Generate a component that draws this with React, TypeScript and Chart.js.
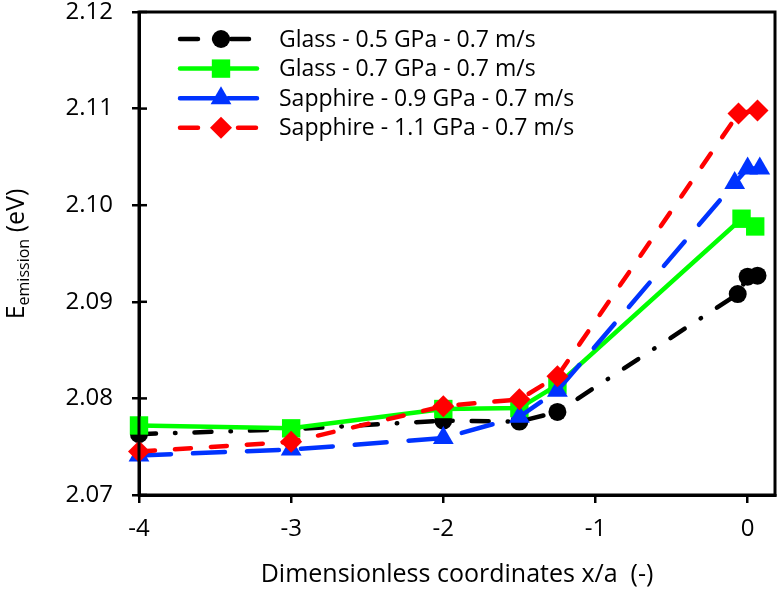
import React, { useEffect, useRef } from 'react';
import { Chart, registerables } from 'chart.js';
import { drawPoint } from 'chart.js/helpers';

Chart.register(...registerables);

// ---- data ----
const seriesLabels = [
  'Glass - 0.5 GPa - 0.7 m/s',
  'Glass - 0.7 GPa - 0.7 m/s',
  'Sapphire - 0.9 GPa - 0.7 m/s',
  'Sapphire - 1.1 GPa - 0.7 m/s',
];
const xGlass05 = [-4, -3, -2, -1.5, -1.25, -0.065, 0, 0.065];
const yGlass05 = [2.0763, 2.0768, 2.0777, 2.0776, 2.0786, 2.0908, 2.0926, 2.0927];
const xGlass07 = [-4, -3, -2, -1.5, -1.25, -0.04, 0.05];
const yGlass07 = [2.0772, 2.0769, 2.0789, 2.079, 2.0814, 2.0986, 2.0978];
const xSapph09 = [-4, -3, -2, -1.5, -1.25, -0.085, 0, 0.08];
const ySapph09 = [2.0741, 2.0747, 2.0759, 2.0781, 2.0808, 2.1023, 2.1038, 2.1038];
const xSapph11 = [-4, -3, -2, -1.5, -1.25, -0.06, 0.065];
const ySapph11 = [2.0745, 2.0755, 2.0792, 2.0799, 2.0823, 2.1095, 2.1098];

const xTicks = [-4, -3, -2, -1, 0];
const yTicks = [2.07, 2.08, 2.09, 2.1, 2.11, 2.12];

const FONT = '"Open Sans", "Noto Sans", sans-serif';

const toPts = (xs: number[], ys: number[]) => xs.map((x, i) => ({ x, y: ys[i] }));

const legendDashes: number[][] = [[18, 16, 1, 16], [], [36, 12], [18, 40]];

const framePlugin = {
  id: 'frameAndExtras',
  afterDraw(chart: any) {
    const { ctx, chartArea: a, scales } = chart;
    ctx.save();
    // frame
    ctx.strokeStyle = '#000';
    ctx.lineWidth = 3;
    ctx.setLineDash([]);
    ctx.strokeRect(a.left, a.top, a.right - a.left, a.bottom - a.top);
    // inner y ticks
    ctx.lineWidth = 2.5;
    yTicks.forEach((v) => {
      const py = scales.y.getPixelForValue(v);
      ctx.beginPath();
      ctx.moveTo(a.left, py);
      ctx.lineTo(a.left + 8, py);
      ctx.stroke();
    });
    // y axis title with subscript
    ctx.translate(24, 254);
    ctx.rotate(-Math.PI / 2);
    ctx.fillStyle = '#000';
    ctx.textBaseline = 'alphabetic';
    ctx.font = `25px ${FONT}`;
    const wE = ctx.measureText('E').width;
    const wP = ctx.measureText(' (eV)').width;
    ctx.font = `16px ${FONT}`;
    const wS = ctx.measureText('emission').width;
    const x0 = -(wE + wS + wP) / 2;
    ctx.font = `25px ${FONT}`;
    ctx.fillText('E', x0, 0);
    ctx.font = `16px ${FONT}`;
    ctx.fillText('emission', x0 + wE, 5);
    ctx.font = `25px ${FONT}`;
    ctx.fillText(' (eV)', x0 + wE + wS, 0);
    ctx.restore();

    // legend
    ctx.save();
    chart.data.datasets.forEach((ds: any, i: number) => {
      const y = 39 + i * 29.6;
      ctx.strokeStyle = ds.borderColor;
      ctx.lineWidth = ds.borderWidth;
      ctx.lineCap = 'round';
      ctx.setLineDash(legendDashes[i]);
      ctx.beginPath();
      ctx.moveTo(180, y);
      ctx.lineTo(257, y);
      ctx.stroke();
      ctx.setLineDash([]);
      ctx.fillStyle = ds.pointBackgroundColor;
      ctx.strokeStyle = ds.pointBorderColor;
      drawPoint(ctx, { pointStyle: ds.pointStyle, rotation: 0, radius: ds.pointRadius, borderWidth: 0 } as any, 221, y);
      ctx.fillStyle = '#000';
      ctx.font = `23px ${FONT}`;
      ctx.textBaseline = 'middle';
      ctx.textAlign = 'left';
      ctx.fillText(seriesLabels[i], 279, y + 1);
    });
    ctx.restore();
  },
};

export default function App() {
  const ref = useRef<HTMLCanvasElement | null>(null);
  useEffect(() => {
    if (!ref.current) return;
    const common = { borderWidth: 4.5, borderCapStyle: 'round', pointBorderWidth: 0, pointHoverRadius: 0, tension: 0, clip: false };
    const chart = new Chart(ref.current, {
      type: 'line',
      data: {
        datasets: [
          {
            ...common,
            label: seriesLabels[0],
            data: toPts(xGlass05, yGlass05),
            borderColor: '#000000',
            borderDash: [17, 19, 0.5, 19],
            pointStyle: 'circle',
            pointRadius: 9,
            pointBackgroundColor: '#000000',
            pointBorderColor: '#000000',
            order: 3,
          },
          {
            ...common,
            label: seriesLabels[1],
            data: toPts(xGlass07, yGlass07),
            borderColor: '#00ff00',
            pointStyle: 'rect',
            pointRadius: 13,
            pointBackgroundColor: '#00ff00',
            pointBorderColor: '#00ff00',
            order: 2,
          },
          {
            ...common,
            label: seriesLabels[2],
            data: toPts(xSapph09, ySapph09),
            borderColor: '#0033ff',
            borderDash: [32, 22],
            pointStyle: 'triangle',
            pointRadius: 12,
            pointBackgroundColor: '#0033ff',
            pointBorderColor: '#0033ff',
            order: 1,
          },
          {
            ...common,
            label: seriesLabels[3],
            data: toPts(xSapph11, ySapph11),
            borderColor: '#ff0000',
            borderDash: [16, 20],
            pointStyle: 'rectRot',
            pointRadius: 11,
            pointBackgroundColor: '#ff0000',
            pointBorderColor: '#ff0000',
            order: 0,
          },
        ] as any,
      },
      options: {
        responsive: false,
        animation: false,
        events: [],
        layout: { autoPadding: false, padding: { left: 0, top: 12, right: 7, bottom: 0 } },
        plugins: { legend: { display: false }, tooltip: { enabled: false } },
        scales: {
          x: {
            type: 'linear',
            min: -4,
            max: 0.18,
            afterBuildTicks: (s: any) => { s.ticks = xTicks.map((v) => ({ value: v })); },
            afterFit: (s: any) => { s.height = 95; s.paddingLeft = 0; s.paddingRight = 0; },
            grid: { drawOnChartArea: false, drawTicks: true, tickLength: 8, color: '#000', lineWidth: 2.5 },
            border: { display: true, color: '#000', width: 3 },
            ticks: { color: '#000', font: { family: FONT, size: 24 }, padding: 12, callback: (v: any) => String(v) },
            title: { display: true, text: 'Dimensionless coordinates x/a  (-)', color: '#000', font: { family: FONT, size: 25 }, padding: { top: 0, bottom: 0 } },
          },
          y: {
            type: 'linear',
            min: 2.07,
            max: 2.12,
            afterBuildTicks: (s: any) => { s.ticks = yTicks.map((v) => ({ value: v })); },
            afterFit: (s: any) => { s.width = 139; s.paddingTop = 0; s.paddingBottom = 0; },
            grid: { drawOnChartArea: false, drawTicks: true, tickLength: 7, color: '#000', lineWidth: 2.5 },
            border: { display: true, color: '#000', width: 3 },
            ticks: { color: '#000', font: { family: FONT, size: 24 }, padding: 19, callback: (v: any) => Number(v).toFixed(2) },
          },
        },
      } as any,
      plugins: [framePlugin],
    });
    return () => chart.destroy();
  }, []);
  return (
    <canvas
      ref={ref}
      width={782}
      height={590}
      style={{ position: 'absolute', left: 0, top: 0, display: 'block', background: '#fff' }}
    />
  );
}
